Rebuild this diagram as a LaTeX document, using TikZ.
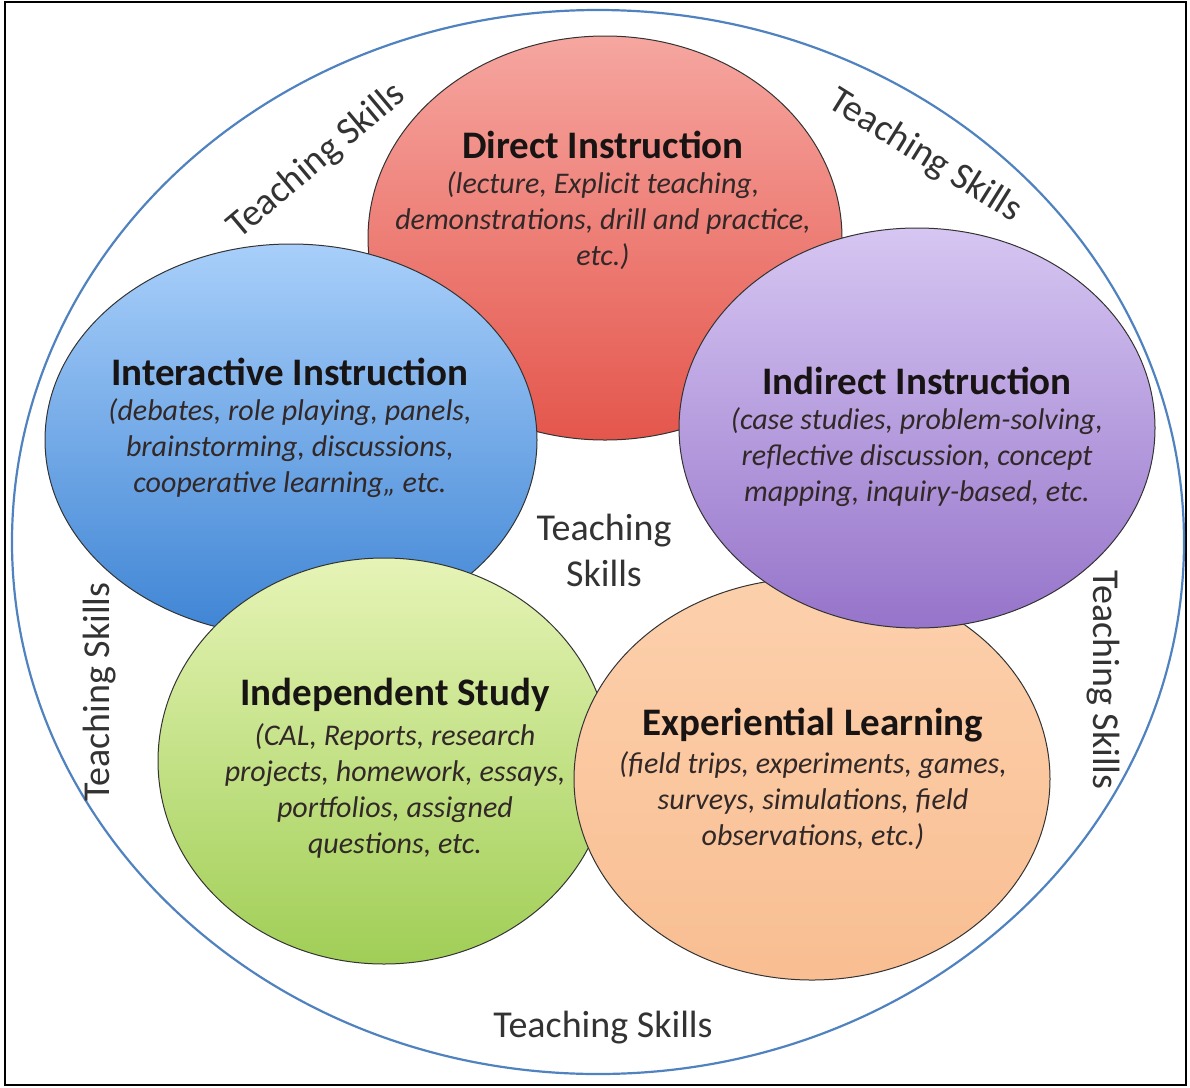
\documentclass[tikz,border=0pt]{standalone}
\usepackage{fontspec}
\setmainfont{Carlito}
\usetikzlibrary{shapes.geometric}
\definecolor{redtop}{RGB}{246,166,160}
\definecolor{redbot}{RGB}{228,86,76}
\definecolor{bluetop}{RGB}{168,207,250}
\definecolor{bluebot}{RGB}{62,132,212}
\definecolor{purtop}{RGB}{214,198,242}
\definecolor{purbot}{RGB}{150,116,202}
\definecolor{gretop}{RGB}{230,244,182}
\definecolor{grebot}{RGB}{160,206,86}
\definecolor{oratop}{RGB}{252,208,172}
\definecolor{orabot}{RGB}{249,190,146}
\definecolor{ringblue}{RGB}{80,130,192}
\definecolor{txtdark}{RGB}{25,20,20}
\definecolor{txtbody}{RGB}{50,40,40}
\begin{document}
\begin{tikzpicture}[x=1pt,y=-1pt,
  bubble/.style={ellipse, draw=black!80, line width=1pt, inner sep=0pt},
  ttl/.style={font=\fontsize{39}{42}\selectfont\bfseries, text=txtdark, inner sep=0pt},
  body/.style={font=\fontsize{30}{36}\selectfont\itshape, align=center, text=txtbody, inner sep=0pt},
  ts/.style={font=\fontsize{38}{46}\selectfont, text=black!80, align=center, inner sep=0pt}]
\useasboundingbox (0,0) rectangle (1190,1087);
\draw[line width=1.5pt] (5,2) rectangle (1186,1085);
\node[ellipse, draw=ringblue, line width=2.2pt, minimum width=1172pt, minimum height=1064pt] (outer) at (598,542) {};
% bubbles
\node[bubble, top color=redtop, bottom color=redbot, minimum width=474pt, minimum height=404pt] (red) at (605,238) {};
\node[bubble, top color=bluetop, bottom color=bluebot, minimum width=492pt, minimum height=392pt] (blue) at (291,440) {};
\node[bubble, top color=gretop, bottom color=grebot, minimum width=452pt, minimum height=406pt] (green) at (384,761) {};
\node[bubble, top color=oratop, bottom color=orabot, minimum width=476pt, minimum height=402pt] (orange) at (812,779) {};
\node[bubble, top color=purtop, bottom color=purbot, minimum width=476pt, minimum height=400pt] (purple) at (917,428) {};
% texts
\node[ttl] (redt) at (603,145) {Direct Instruction};
\node[body] (redb) at (603,221) {(lecture, Explicit teaching,\\demonstrations, drill and practice,\\etc.)};
\node[ttl] (bluet) at (290,372) {Interactive Instruction};
\node[body] (blueb) at (290,448) {(debates, role playing, panels,\\brainstorming, discussions,\\cooperative learning,, etc.};
\node[ttl] (purt) at (917,381) {Indirect Instruction};
\node[body] (purb) at (917,457) {(case studies, problem-solving,\\reflective discussion, concept\\mapping, inquiry-based, etc.};
\node[ttl] (gret) at (395,695) {Independent Study};
\node[body] (greb) at (395,791) {(CAL, Reports, research\\projects, homework, essays,\\portfolios, assigned\\questions, etc.};
\node[ttl] (orat) at (813,725) {Experiential Learning};
\node[body] (orab) at (813,801) {(field trips, experiments, games,\\surveys, simulations, field\\observations, etc.)};
% teaching skills
\node[ts] (tsc) at (604,550) {Teaching\\Skills};
\node[ts] (tsb) at (603,1028) {Teaching Skills};
\node[ts, rotate=40] (tstl) at (317,161) {Teaching Skills};
\node[ts, rotate=-32] (tstr) at (925,156) {Teaching Skills};
\node[ts, rotate=90] (tsl) at (100,692) {Teaching Skills};
\node[ts, rotate=-90] (tsr) at (1103,680) {Teaching Skills};
\end{tikzpicture}
\end{document}
